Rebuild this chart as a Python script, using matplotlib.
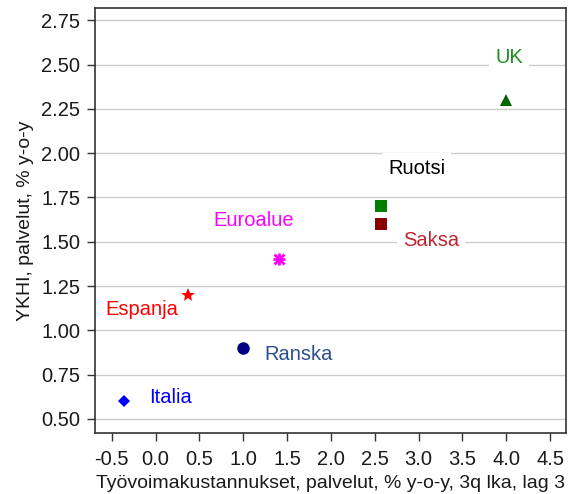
import matplotlib
matplotlib.use("Agg")
import matplotlib.pyplot as plt

# ── Data ──────────────────────────────────────────────────────────────────────
countries = ["Italia", "Espanja", "Ranska", "Euroalue", "Saksa", "Ruotsi", "UK"]
labour_cost = [-0.36, 0.37, 1.0, 1.41, 2.57, 2.57, 4.0]
hicp_services = [0.6, 1.2, 0.9, 1.4, 1.6, 1.7, 2.3]
label_x = [0.17, -0.16, 1.63, 1.12, 3.14, 2.98, 4.03]
label_y = [0.62, 1.115, 0.865, 1.62, 1.505, 1.915, 2.54]

x_ticks = [-0.5, 0.0, 0.5, 1.0, 1.5, 2.0, 2.5, 3.0, 3.5, 4.0, 4.5]
y_ticks = [0.50, 0.75, 1.00, 1.25, 1.50, 1.75, 2.00, 2.25, 2.50, 2.75]

# ── Style per country ─────────────────────────────────────────────────────────
marker_style = {
    "Italia":   dict(marker="D", color="#0000ff", ms=6),
    "Espanja":  dict(marker="*", color="#ff0000", ms=10),
    "Ranska":   dict(marker="o", color="#000080", ms=9),
    "Saksa":    dict(marker="s", color="#8b0000", ms=9),
    "Ruotsi":   dict(marker="s", color="#008000", ms=9),
    "UK":       dict(marker="^", color="#006400", ms=8),
}
label_color = {
    "Italia": "#0000ff", "Espanja": "#ff0000", "Ranska": "#2b4f8a",
    "Euroalue": "#ff00ff", "Saksa": "#c1272d", "Ruotsi": "#000000",
    "UK": "#1f8f1f",
}
boxed = {"Saksa", "Ruotsi", "UK"}

plt.rcParams["font.family"] = ["Liberation Sans", "DejaVu Sans"]

fig = plt.figure(figsize=(5.71, 4.94), dpi=100)
ax = fig.add_axes([0.1664, 0.1235, 0.8248, 0.8603])

ax.set_xlim(-0.69, 4.68)
ax.set_ylim(0.42, 2.82)
ax.set_xticks(x_ticks)
ax.set_yticks(y_ticks)
ax.set_xticklabels([f"{v:.1f}" for v in x_ticks])
ax.set_yticklabels([f"{v:.2f}" for v in y_ticks])
ax.yaxis.grid(True, color="#cccccc", lw=1.0)
ax.set_axisbelow(True)

for name, x, y in zip(countries, labour_cost, hicp_services):
    if name == "Euroalue":
        ax.plot(x, y, marker="+", color="#ff00ff", ms=9, mew=2, ls="none", zorder=3)
        ax.plot(x, y, marker="x", color="#ff00ff", ms=7, mew=2, ls="none", zorder=3)
    else:
        ax.plot(x, y, ls="none", zorder=3, mew=0, **marker_style[name])

for name, lx, ly in zip(countries, label_x, label_y):
    kw = {}
    if name in boxed:
        kw["bbox"] = dict(boxstyle="square,pad=0.3", fc="white", ec="none")
    ax.text(lx, ly, name, color=label_color[name], fontsize=14.5,
            ha="center", va="center", zorder=4, **kw)

for sp in ax.spines.values():
    sp.set_color("#333333")
    sp.set_linewidth(1.2)

ax.tick_params(axis="both", direction="out", length=5.5, width=1,
               color="#333333", labelsize=14.5, labelcolor="#1a1a1a")
ax.tick_params(axis="x", pad=7)
ax.tick_params(axis="y", pad=5)
ax.set_xlabel("Työvoimakustannukset, palvelut, % y-o-y, 3q lka, lag 3",
              fontsize=14, color="#1a1a1a", labelpad=4)
ax.set_ylabel("YKHI, palvelut, % y-o-y", fontsize=14, color="#1a1a1a", labelpad=5)

fig.savefig("out.png", dpi=100)
